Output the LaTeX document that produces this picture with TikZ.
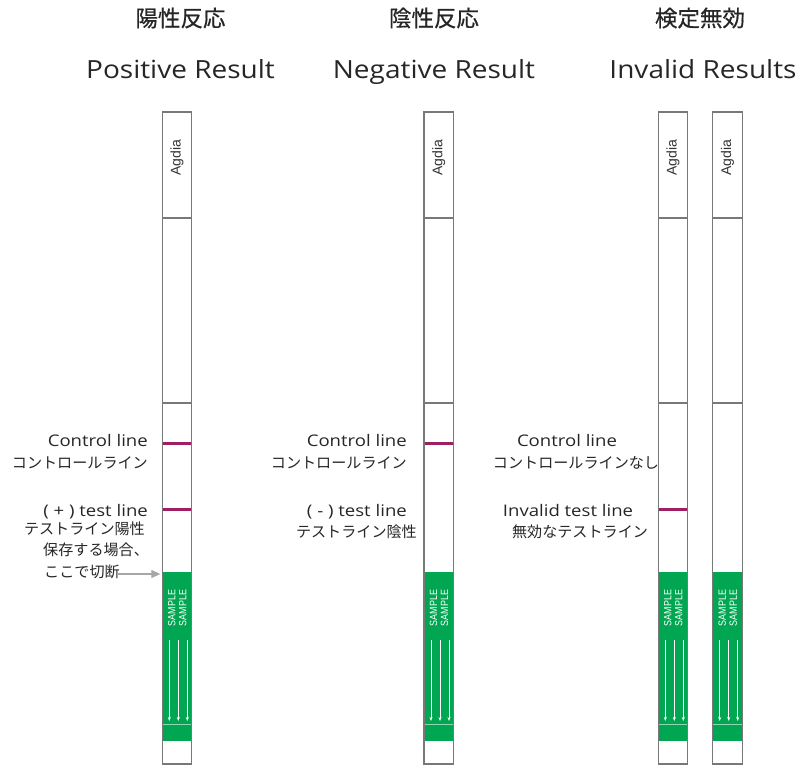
\documentclass[tikz,border=0pt]{standalone}
\usepackage{fontspec}
\setmainfont{Open Sans}
\newfontfamily\labfont[FakeStretch=1.16]{Open Sans}
\newfontfamily\headfont[FakeStretch=1.12]{Open Sans}
\newfontfamily\jp{Noto Sans CJK JP}
\newfontfamily\jphd[FakeBold=0.6]{Noto Sans CJK JP}
\newfontfamily\agd{Liberation Sans}
\usetikzlibrary{arrows.meta}
\definecolor{stripgreen}{RGB}{0,166,81}
\definecolor{linemag}{RGB}{158,31,99}
\definecolor{stripgray}{RGB}{120,120,120}
\begin{document}
\begin{tikzpicture}[x=1pt,y=-1pt,
  head/.style={inner sep=0pt, anchor=base, font=\headfont\fontsize{25}{30}\selectfont, text=black!85},
  jphead/.style={inner sep=0pt, font=\jphd\fontsize{22.5}{24}\selectfont, text=black!85},
  lab/.style={inner sep=0pt, font=\labfont\fontsize{16}{19}\selectfont, text=black!85},
  jplab/.style={inner sep=0pt, font=\jp\fontsize{15.1}{17}\selectfont, text=black!85},
  agdia/.style={inner sep=0pt, rotate=90, font=\agd\fontsize{14}{14}\selectfont, text=black!80},
  sample/.style={inner sep=0pt, rotate=90, font=\agd\fontsize{10.5}{11}\selectfont, text=white, xscale=0.85},
  divline/.style={stripgray, line width=1.2pt},
  magline/.style={linemag, line width=3pt},
  flow/.style={white, line width=0.7pt, -{Stealth[length=4pt,width=3pt]}},
  cutarrow/.style={gray!70, line width=1.3pt, -{Triangle[length=9pt,width=8pt]}}
]
\useasboundingbox (0,0) rectangle (811,767);

% strips
\foreach \L/\n in {162.3/a,424/b,658.3/c,712.7/d}{
  \fill[white] (\L,112) rectangle (\L+29.4,764);
  \fill[stripgreen] (\L,572) rectangle (\L+29.4,741);
  \draw[stripgreen!45!white, line width=0.8pt] (\L,724) -- (\L+29.4,724);
  \foreach \dx in {7,16,25}{
    \draw[flow] (\L+\dx,640) -- (\L+\dx,721);
  }
  \node[sample] (sa\n) at (\L+9.5,608) {SAMPLE};
  \node[sample] (sb\n) at (\L+20.5,608) {SAMPLE};
  \node[agdia] (ag\n) at (\L+14.7,158) {Agdia};
  \draw[divline] (\L,218) -- (\L+29.4,218);
  \draw[divline] (\L,403) -- (\L+29.4,403);
  \draw[stripgray, line width=1.2pt] (\L,112) rectangle (\L+29.4,764);
  \coordinate (cut\n) at (\L-2,574);
}

% result lines
\draw[magline] (162.9,443) -- (191.1,443);
\draw[magline] (162.9,509) -- (191.1,509);
\draw[magline] (424.6,443) -- (452.8,443);
\draw[magline] (658.9,509) -- (687.1,509);

% headers
\node[jphead] (h1j) at (180.5,18) {陽性反応};
\node[head]   (h1e) at (180.5,79) {Positive Result};
\node[jphead] (h2j) at (434,18) {陰性反応};
\node[head]   (h2e) at (434,79) {Negative Result};
\node[jphead] (h3j) at (700,18) {検定無効};
\node[head]   (h3e) at (703,79) {Invalid Results};

% positive labels
\node[lab, anchor=base east]   (p1) at (148,446) {Control line};
\node[jplab, anchor=east] (p2) at (148,463) {コントロールライン};
\node[lab, anchor=base east]   (p3) at (148,516) {( + ) test line};
\node[jplab, anchor=east] (p4) at (145,529) {テストライン陽性};
\node[jplab, anchor=west] (p5) at (43,550) {保存する場合、};
\node[jplab, anchor=west] (p6) at (44,572) {ここで切断};
\draw[cutarrow] (p6.east) ++(-3,2) coordinate (cs) -- (cs -| cuta);

% negative labels
\node[lab, anchor=base east]   (n1) at (407,446) {Control line};
\node[jplab, anchor=east] (n2) at (407,463) {コントロールライン};
\node[lab, anchor=base east]   (n3) at (407,516) {( - ) test line};
\node[jplab, anchor=east] (n4) at (417,532) {テストライン陰性};

% invalid labels
\node[lab, anchor=base]   (i1) at (567,446) {Control line};
\node[jplab] (i2) at (576,463) {コントロールラインなし};
\node[lab, anchor=base]   (i3) at (568,516) {Invalid test line};
\node[jplab] (i4) at (580,532) {無効なテストライン};
\end{tikzpicture}
\end{document}
